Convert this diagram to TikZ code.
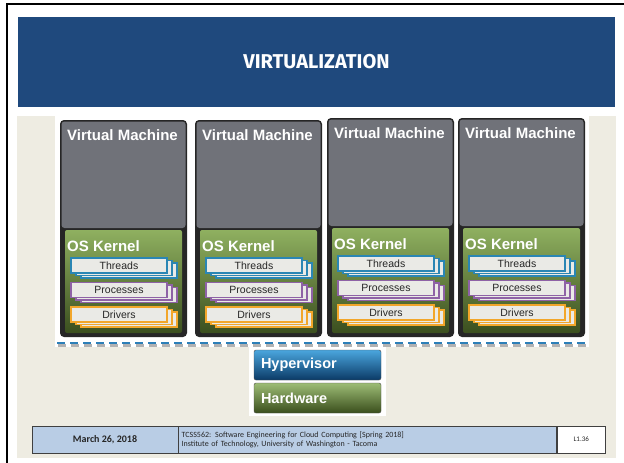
\documentclass[tikz,border=0pt]{standalone}
\usepackage{fontspec}
\setmainfont{Liberation Sans}
\newfontfamily\titlefont{Fira Sans}
\newfontfamily\footfont{Carlito}
\usetikzlibrary{positioning, shadows}
\definecolor{banner}{HTML}{1F497D}
\definecolor{beige}{HTML}{EEECE2}
\definecolor{vmgray}{HTML}{707279}
\definecolor{vmdark}{HTML}{262626}
\definecolor{kerneltop}{HTML}{8FB060}
\definecolor{kernelmid}{HTML}{5C7C32}
\definecolor{kernelbot}{HTML}{3B4F1F}
\definecolor{threadblue}{HTML}{2A86B4}
\definecolor{procpurple}{HTML}{8E62A6}
\definecolor{drvorange}{HTML}{F2A62A}
\definecolor{layerfill}{HTML}{EAEAE6}
\definecolor{dashblue}{HTML}{2C7FB8}
\definecolor{hyptop}{HTML}{4AA6DE}
\definecolor{hypbot}{HTML}{0B3A66}
\definecolor{hwtop}{HTML}{9DBD76}
\definecolor{hwbot}{HTML}{3A4E1C}
\definecolor{footblue}{HTML}{B9CDE5}
\tikzstyle{vmlabel}=[anchor=west, text=white, inner sep=0pt, font=\bfseries\fontsize{15}{17}\selectfont]
\tikzstyle{layer}=[draw, line width=1.2pt, fill=layerfill, minimum width=96pt, minimum height=15pt, inner sep=0pt, text=black!85, font=\fontsize{10.5}{12}\selectfont, copy shadow={shadow xshift=10pt, shadow yshift=-5pt}, copy shadow={shadow xshift=5pt, shadow yshift=-2.5pt}]
\tikzstyle{stackbox}=[draw=black!70, rounded corners=2pt, minimum height=30pt, text width=113pt, inner sep=7pt, align=left, text=white, font=\bfseries\fontsize{14.5}{16}\selectfont]
\tikzstyle{footcell}=[draw=black!75, line width=0.6pt, minimum height=27pt, inner sep=3pt, text=black!85]

\begin{document}
\begin{tikzpicture}[x=1pt, y=-1pt]
    \useasboundingbox (0,0) rectangle (624,463);
    % Slide:
    \fill[white] (0,0) rectangle (624,463);
    \draw[line width=2pt] (7,463) -- (7,4) -- (624,4);
    \fill[beige] (17,116) rectangle (616,458);
    \node[fill=banner, minimum width=597pt, minimum height=90pt, text=white, font=\titlefont\bfseries\fontsize{20}{24}\selectfont] (title) at (316.5,62) {VIRTUALIZATION};
    \fill[white] (55,116) rectangle (589,347);
    \fill[white] (249,346) rectangle (386,416);

    % Virtual machines:
    \foreach \x/\y [count=\i] in {60/120, 195/120, 327/118, 458/118} {
        \fill[vmdark, rounded corners=4pt] (\x,\y) rectangle (\x+127,337);
        \fill[vmgray, rounded corners=3pt] (\x+1.5,\y+1.5) rectangle (\x+125.5,\y+108);
        \shade[top color=kerneltop, middle color=kernelmid, bottom color=kernelbot, rounded corners=2pt] (\x+5,\y+110) rectangle (\x+122,333);
        \node[vmlabel] (vm\i) at (\x+7,\y+15) {Virtual Machine};
        \node[vmlabel] (os\i) at (\x+7,\y+126) {OS Kernel};
        \node[layer, draw=threadblue] (thr\i) at (\x+59,\y+145.5) {Threads};
        \node[layer, draw=procpurple] (proc\i) at (\x+59,\y+170) {Processes};
        \node[layer, draw=drvorange] (drv\i) at (\x+59,\y+194.5) {Drivers};
    }
    \draw[black!30, line width=2.5pt, dash pattern=on 8pt off 5pt] (58,345.5) -- (589,345.5);
    \draw[dashblue, line width=2.5pt, dash pattern=on 8pt off 5pt] (57,343) -- (588,343);

    % Hypervisor and hardware:
    \node[stackbox, top color=hyptop, bottom color=hypbot] (hyp) at (317.5,365) {Hypervisor};
    \node[stackbox, top color=hwtop, bottom color=hwbot] (hw) at (317.5,398) {Hardware};

    % Footer:
    \node[footcell, fill=footblue, minimum width=146pt, font=\footfont\bfseries\fontsize{10}{12}\selectfont] (date) at (105,439.5) {March 26, 2018};
    \node[footcell, fill=footblue, text width=372pt, align=left, font=\footfont\fontsize{8}{9}\selectfont, right=0pt of date] (course) {TCSS562: Software Engineering for Cloud Computing [Spring 2018]\\Institute of Technology, University of Washington - Tacoma};
    \node[footcell, fill=white, minimum width=48pt, font=\footfont\fontsize{7}{8}\selectfont, right=0pt of course] (page) {L1.36};
\end{tikzpicture}
\end{document}
